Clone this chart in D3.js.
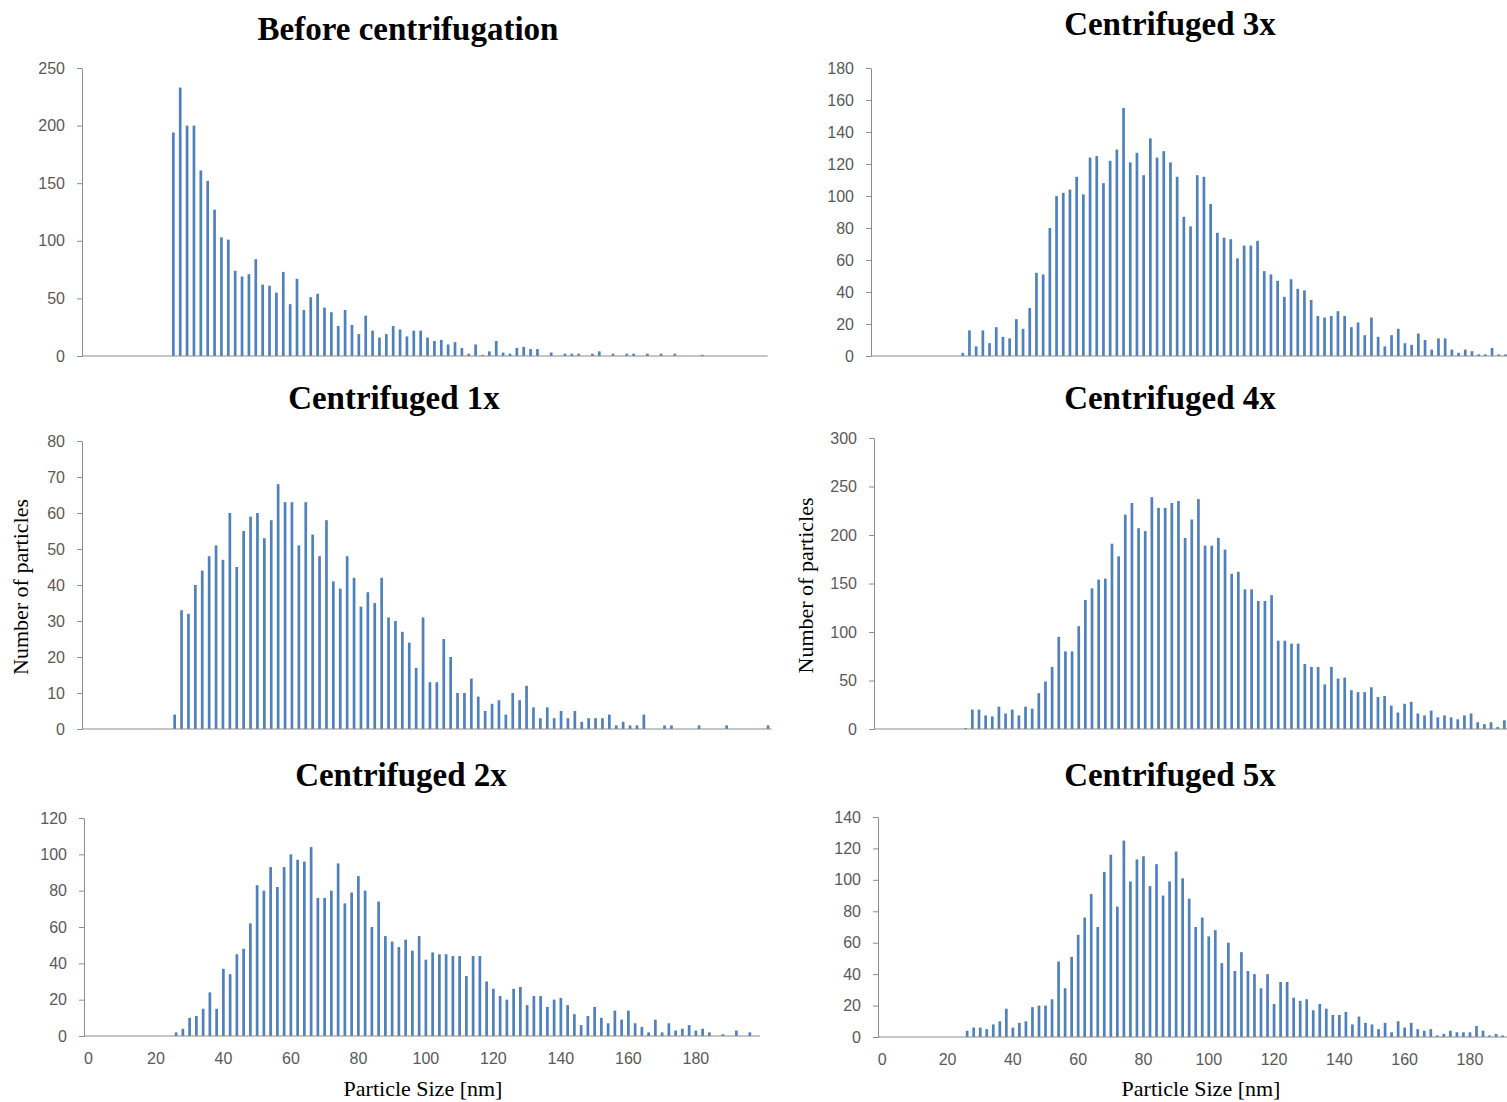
<!DOCTYPE html>
<html>
<head>
<meta charset="utf-8">
<script src="https://cdn.jsdelivr.net/npm/d3@7"></script>
<style>
  body { margin: 0; background: #fff; }
  .title { font-family: "Liberation Serif", "Times New Roman", serif; font-weight: bold; font-size: 33px; fill: #000; }
  .axis-title { font-family: "Liberation Serif", "Times New Roman", serif; font-size: 22px; fill: #000; }
  .axis text { font-family: "Liberation Sans", Arial, sans-serif; font-size: 16px; fill: #595959; }
  .axis path, .axis line { stroke: #8c8c8c; }
</style>
</head>
<body>
<svg id="chart" width="1507" height="1102"></svg>
<script>
// Particle size bins (nm), 2 nm wide; counts below start at the 26 nm bin
const binStart = 26;
const sizeBins = d3.range(0, 200, 2);
const xTickLabels = [0, 20, 40, 60, 80, 100, 120, 140, 160, 180];

const beforeCounts = [194, 233, 200, 200, 161, 152, 127, 103, 101, 74,
  69, 71, 84, 62, 61, 55, 73, 45, 67, 40,
  51, 54, 42, 38, 26, 40, 27, 19, 35, 22,
  16, 19, 26, 23, 17, 22, 22, 16, 13, 14,
  10, 12, 7, 2, 10, 1, 4, 13, 3, 2,
  7, 8, 6, 6, 0, 3, 0, 2, 2, 2,
  0, 2, 4, 0, 2, 0, 2, 2, 0, 2,
  0, 2, 0, 2, 0, 0, 0, 1];

const c1xCounts = [4, 33, 32, 40, 44, 48, 51, 47, 60, 45,
  55, 59, 60, 53, 58, 68, 63, 63, 51, 63,
  54, 48, 58, 41, 39, 48, 42, 34, 38, 35,
  42, 31, 30, 27, 24, 17, 31, 13, 13, 25,
  20, 10, 10, 14, 9, 5, 7, 8, 4, 10,
  8, 12, 6, 3, 6, 3, 5, 3, 5, 2,
  3, 3, 3, 4, 1, 2, 1, 1, 4, 0,
  0, 1, 1, 0, 0, 0, 1, 0, 0, 0,
  1, 0, 0, 0, 0, 0, 1];

const c2xCounts = [2, 4, 10, 11, 15, 24, 15, 37, 34, 45,
  48, 62, 83, 80, 93, 82, 93, 100, 97, 96,
  104, 76, 76, 80, 95, 73, 79, 88, 80, 60,
  74, 55, 52, 49, 53, 47, 55, 42, 46, 45,
  45, 44, 44, 33, 44, 44, 30, 26, 22, 20,
  26, 27, 17, 22, 22, 16, 20, 21, 17, 12,
  6, 11, 16, 10, 7, 14, 9, 14, 7, 5,
  2, 9, 2, 7, 3, 4, 6, 3, 4, 2,
  0, 1, 0, 3, 0, 2];

const c3xCounts = [2, 16, 6, 16, 8, 18, 12, 11, 23, 17,
  30, 52, 51, 80, 100, 102, 104, 112, 101, 124,
  125, 108, 122, 129, 155, 121, 127, 113, 136, 124,
  128, 121, 112, 87, 81, 113, 112, 95, 77, 74,
  73, 61, 69, 69, 72, 53, 51, 47, 37, 48,
  42, 41, 35, 25, 24, 25, 28, 25, 18, 21,
  13, 24, 12, 6, 13, 17, 8, 7, 14, 10,
  4, 11, 11, 4, 2, 4, 3, 1, 1, 5,
  1, 1];

const c4xCounts = [1, 20, 20, 14, 13, 23, 16, 20, 14, 23,
  21, 37, 49, 64, 95, 80, 80, 106, 133, 145,
  154, 155, 191, 178, 221, 233, 207, 204, 239, 228,
  228, 233, 235, 197, 216, 237, 189, 189, 197, 185,
  160, 162, 144, 144, 132, 132, 138, 91, 91, 88,
  88, 67, 64, 64, 46, 64, 52, 53, 40, 38,
  38, 43, 33, 34, 24, 17, 26, 28, 16, 14,
  19, 12, 14, 12, 10, 14, 16, 7, 5, 7,
  2, 9];

const c5xCounts = [4, 6, 6, 5, 8, 10, 18, 6, 9, 10,
  19, 20, 20, 24, 48, 31, 51, 65, 76, 91,
  70, 105, 116, 83, 125, 99, 113, 115, 96, 110,
  90, 99, 118, 101, 88, 70, 76, 64, 68, 47,
  60, 42, 54, 42, 40, 31, 40, 21, 35, 35,
  25, 23, 24, 17, 21, 18, 14, 14, 16, 8,
  13, 9, 8, 5, 9, 3, 10, 6, 9, 5,
  4, 5, 1, 2, 4, 3, 3, 3, 7, 4,
  1, 2, 1];

const barColor = '#4f81bd';
const barWidth = 2.7;

// panel layout (pixel positions of each small chart)
const panels = [
  { title: 'Before centrifugation', counts: beforeCounts, titleX: 408, titleY: 40,
    axisX: 82, x0: 80.6, x1: 767.6, yTop: 68, yBottom: 356, yMax: 250, yStep: 50 },
  { title: 'Centrifuged 3x', counts: c3xCounts, titleX: 1170, titleY: 35,
    axisX: 871, x0: 872.3, x1: 1542.3, yTop: 68, yBottom: 356, yMax: 180, yStep: 20 },
  { title: 'Centrifuged 1x', counts: c1xCounts, titleX: 394, titleY: 409,
    axisX: 82, x0: 81.5, x1: 771.5, yTop: 441, yBottom: 729, yMax: 80, yStep: 10, yLabel: 20 },
  { title: 'Centrifuged 4x', counts: c4xCounts, titleX: 1170, titleY: 409,
    axisX: 874, x0: 875.9, x1: 1540.9, yTop: 438, yBottom: 729, yMax: 300, yStep: 50, yLabel: 805 },
  { title: 'Centrifuged 2x', counts: c2xCounts, titleX: 401, titleY: 786,
    axisX: 84, x0: 85, x1: 760, yTop: 818, yBottom: 1036, yMax: 120, yStep: 20, xLabels: true, xTitle: 423 },
  { title: 'Centrifuged 5x', counts: c5xCounts, titleX: 1170, titleY: 786,
    axisX: 878, x0: 879, x1: 1532, yTop: 817, yBottom: 1037, yMax: 140, yStep: 20, xLabels: true, xTitle: 1201 }
];

const svg = d3.select('#chart');
svg.append('rect').attr('width', 1507).attr('height', 1102).attr('fill', '#fff');

panels.forEach(p => {
  const g = svg.append('g');

  const x = d3.scaleBand()
    .domain(sizeBins)
    .range([p.x0, p.x1]);

  const y = d3.scaleLinear()
    .domain([0, p.yMax])
    .range([p.yBottom, p.yTop]);

  const data = p.counts.map((c, i) => ({ size: binStart + 2 * i, count: c }));

  // bars
  g.selectAll('rect.bar')
    .data(data.filter(d => d.count > 0))
    .join('rect')
    .attr('class', 'bar')
    .attr('x', d => x(d.size) + x.bandwidth() / 2 - barWidth / 2)
    .attr('y', d => y(d.count))
    .attr('width', barWidth)
    .attr('height', d => y(0) - y(d.count))
    .attr('fill', barColor);

  // y axis
  const yAxis = d3.axisLeft(y)
    .tickValues(d3.range(0, p.yMax + 1, p.yStep))
    .tickSize(5)
    .tickPadding(12)
    .tickSizeOuter(0);
  g.append('g')
    .attr('class', 'axis')
    .attr('transform', `translate(${p.axisX},0)`)
    .call(yAxis);

  // x axis
  const xAxis = d3.axisBottom(x)
    .tickValues(p.xLabels ? xTickLabels : [])
    .tickSize(0)
    .tickPadding(17)
    .tickSizeOuter(0);
  const xg = g.append('g')
    .attr('class', 'axis')
    .attr('transform', `translate(0,${p.yBottom})`)
    .call(xAxis);
  xg.select('.domain').attr('d', `M${p.axisX},0H${Math.min(p.x1, 1507)}`);

  // title
  g.append('text')
    .attr('class', 'title')
    .attr('x', p.titleX)
    .attr('y', p.titleY)
    .attr('text-anchor', 'middle')
    .text(p.title);

  if (p.yLabel) {
    g.append('text')
      .attr('class', 'axis-title')
      .attr('transform', `translate(${p.yLabel + 8},${(p.yTop + p.yBottom) / 2 + 2}) rotate(-90)`)
      .attr('text-anchor', 'middle')
      .text('Number of particles');
  }

  if (p.xLabels) {
    g.append('text')
      .attr('class', 'axis-title')
      .attr('x', p.xTitle)
      .attr('y', 1096)
      .attr('text-anchor', 'middle')
      .text('Particle Size [nm]');
  }
});
</script>
</body>
</html>
